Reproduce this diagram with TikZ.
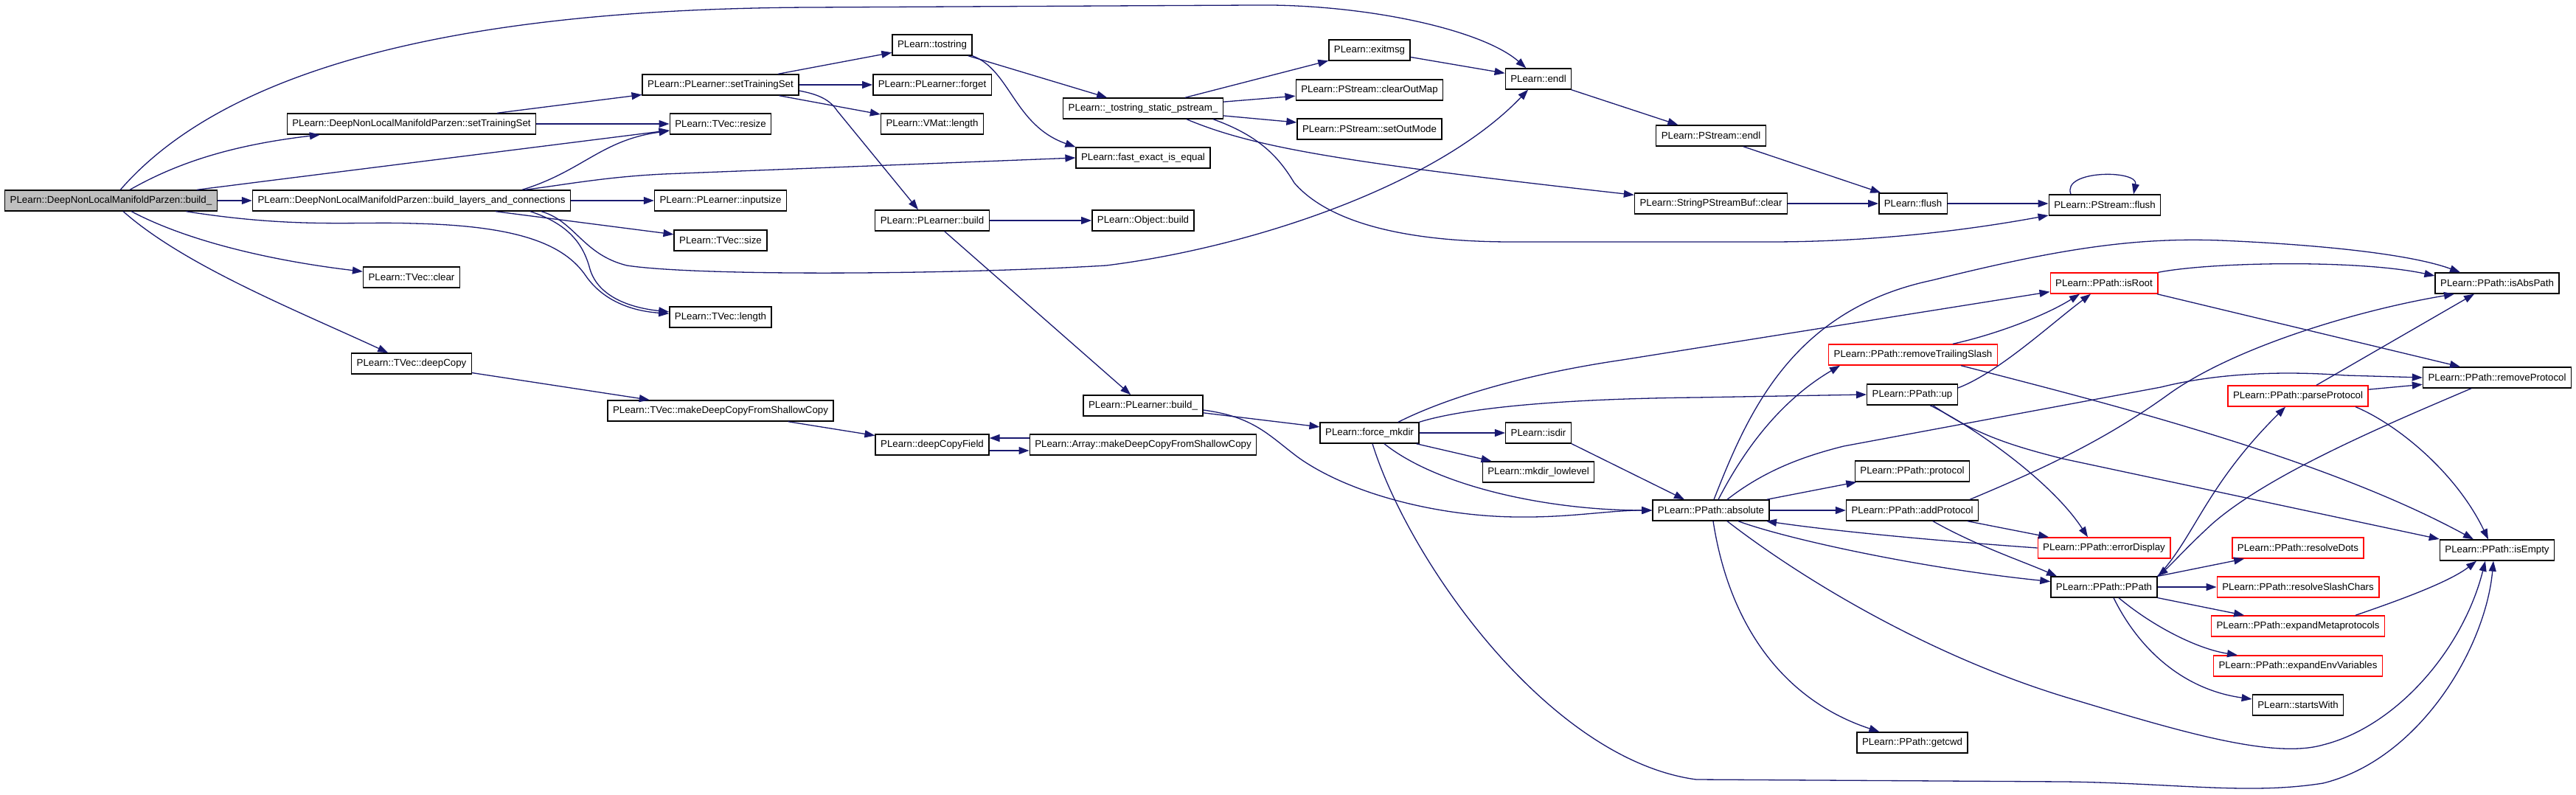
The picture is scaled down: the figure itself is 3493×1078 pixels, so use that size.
\documentclass[tikz,border=0pt]{standalone}
\usepackage{fontspec}
\setmainfont{Liberation Sans}
\usepackage{tikz}
\usetikzlibrary{arrows.meta}
\definecolor{rootgray}{HTML}{BFBFBF}
\definecolor{edgeblue}{HTML}{191970}
\tikzset{
  fn/.style={draw=black, fill=white, line width=1.4pt, inner xsep=7pt, inner ysep=0pt,
    minimum height=28pt, font=\fontsize{13.3pt}{16pt}\selectfont},
  fnroot/.style={fn, fill=rootgray},
  fnred/.style={fn, draw=red},
  call/.style={edgeblue, line width=1.3pt, -{Triangle[length=14pt,width=10pt]}}
}

\begin{document}
\begin{tikzpicture}[x=1pt, y=-1pt]
    \useasboundingbox (0,0) rectangle (3493,1078);
    % ---------------------
    \node[fnroot] (build) at (150.5,272) {PLearn::DeepNonLocalManifoldParzen::build\_};
    \node[fn] (dnSetTS) at (558,168) {PLearn::DeepNonLocalManifoldParzen::setTrainingSet};
    \node[fn] (layers) at (558,272) {PLearn::DeepNonLocalManifoldParzen::build\_layers\_and\_connections};
    \node[fn] (tclear) at (558,376) {PLearn::TVec::clear};
    \node[fn] (deepCopy) at (558,493) {PLearn::TVec::deepCopy};
    % ---------------------
    \node[fn] (plSetTS) at (977,115) {PLearn::PLearner::setTrainingSet};
    \node[fn] (resize) at (977,168) {PLearn::TVec::resize};
    \node[fn] (inputsize) at (977,272) {PLearn::PLearner::inputsize};
    \node[fn] (tsize) at (977,326) {PLearn::TVec::size};
    \node[fn] (tlength) at (977,430) {PLearn::TVec::length};
    \node[fn] (tvecMdc) at (977,557) {PLearn::TVec::makeDeepCopyFromShallowCopy};
    % ---------------------
    \node[fn] (tostring) at (1264,61) {PLearn::tostring};
    \node[fn] (forget) at (1264,115) {PLearn::PLearner::forget};
    \node[fn] (vmLength) at (1264,168) {PLearn::VMat::length};
    \node[fn] (plBuild) at (1264,299) {PLearn::PLearner::build};
    \node[fn] (dcField) at (1264,603) {PLearn::deepCopyField};
    % ---------------------
    \node[fn] (pstream) at (1550,147) {PLearn::\_tostring\_static\_pstream\_};
    \node[fn] (fastEq) at (1550,214) {PLearn::fast\_exact\_is\_equal};
    \node[fn] (objBuild) at (1550,299) {PLearn::Object::build};
    \node[fn] (plBuildU) at (1550,550) {PLearn::PLearner::build\_};
    \node[fn] (arrMdc) at (1550,603) {PLearn::Array::makeDeepCopyFromShallowCopy};
    % ---------------------
    \node[fn] (exitmsg) at (1857,68) {PLearn::exitmsg};
    \node[fn] (clearOut) at (1857,122) {PLearn::PStream::clearOutMap};
    \node[fn] (setOut) at (1857,175) {PLearn::PStream::setOutMode};
    \node[fn] (forceMk) at (1857,587) {PLearn::force\_mkdir};
    \node[fn] (endl) at (2086,107) {PLearn::endl};
    \node[fn] (isdir) at (2086,587) {PLearn::isdir};
    \node[fn] (mkLow) at (2086,640) {PLearn::mkdir\_lowlevel};
    % ---------------------
    \node[fn] (psEndl) at (2320,184) {PLearn::PStream::endl};
    \node[fn] (spbClear) at (2320,276) {PLearn::StringPStreamBuf::clear};
    \node[fn] (absolute) at (2320,692) {PLearn::PPath::absolute};
    \node[fn] (flush) at (2594,276) {PLearn::flush};
    \node[fnred] (rts) at (2594,481) {PLearn::PPath::removeTrailingSlash};
    \node[fn] (up) at (2593,535) {PLearn::PPath::up};
    \node[fn] (protocol) at (2593,639) {PLearn::PPath::protocol};
    \node[fn] (addProt) at (2593,692) {PLearn::PPath::addProtocol};
    \node[fn] (getcwd) at (2593,1007) {PLearn::PPath::getcwd};
    % ---------------------
    \node[fn] (psFlush) at (2854,278) {PLearn::PStream::flush};
    \node[fnred] (isRoot) at (2853,384) {PLearn::PPath::isRoot};
    \node[fnred] (errDisp) at (2853,743) {PLearn::PPath::errorDisplay};
    \node[fn] (ppath) at (2853,796) {PLearn::PPath::PPath};
    \node[fnred] (parseProt) at (3116,537) {PLearn::PPath::parseProtocol};
    \node[fnred] (resDots) at (3116,743) {PLearn::PPath::resolveDots};
    \node[fnred] (resSlash) at (3116,796) {PLearn::PPath::resolveSlashChars};
    \node[fnred] (expMeta) at (3116,849) {PLearn::PPath::expandMetaprotocols};
    \node[fnred] (expEnv) at (3116,903) {PLearn::PPath::expandEnvVariables};
    \node[fn] (startsWith) at (3116,956) {PLearn::startsWith};
    \node[fn] (isAbs) at (3386,384) {PLearn::PPath::isAbsPath};
    \node[fn] (rmProt) at (3386,512) {PLearn::PPath::removeProtocol};
    \node[fn] (isEmpty) at (3386,746) {PLearn::PPath::isEmpty};
    % ---------------------
    \draw
    (build)
    edge[call] (resize)
    (build.east)
    edge[call] (layers.west)
    (dnSetTS)
    edge[call] (plSetTS)
    (dnSetTS.east)
    edge[call] (resize.west)
    (layers.east)
    edge[call] (inputsize.west)
    (layers)
    edge[call] (tsize)
    (plSetTS)
    edge[call] (tostring)
    edge[call] (vmLength)
    (plSetTS.east)
    edge[call] (forget.west)
    (deepCopy)
    edge[call] (tvecMdc)
    (tvecMdc)
    edge[call] (dcField)
    ([yshift=-8pt]dcField.east)
    edge[call] ([yshift=-8pt]arrMdc.west)
    ([yshift=9pt]arrMdc.west)
    edge[call] ([yshift=9pt]dcField.east)
    (tostring)
    edge[call] (pstream)
    (plBuild.east)
    edge[call] (objBuild.west)
    (plBuild)
    edge[call] (plBuildU)
    (pstream)
    edge[call] (exitmsg)
    edge[call] (clearOut)
    edge[call] (setOut)
    (plBuildU)
    edge[call] (forceMk)
    (exitmsg)
    edge[call] (endl)
    (forceMk.east)
    edge[call] (isdir.west)
    (forceMk)
    edge[call] (mkLow)
    (endl)
    edge[call] (psEndl)
    (psEndl)
    edge[call] (flush)
    (spbClear.east)
    edge[call] (flush.west)
    (flush.east)
    edge[call] (flush.east -| psFlush.west)
    (isdir.south east)
    edge[call] ([xshift=-36pt]absolute.north)
    (absolute)
    edge[call] (protocol)
    (absolute.east)
    edge[call] (addProt.west)
    (addProt)
    edge[call] (errDisp)
    ([xshift=72pt]isRoot.south)
    edge[call] ([xshift=-50pt]rmProt.north)
    ([xshift=25pt]parseProt.north)
    edge[call] ([xshift=-31pt]isAbs.south)
    (parseProt)
    edge[call] (rmProt)
    (ppath)
    edge[call] (resDots)
    edge[call] (expMeta)
    (ppath.east)
    edge[call] (resSlash.west);
    % ---------------------
    \draw[call] (build) .. controls (300,100) and (600,12) .. (1100,10) -- (1700,7)
      .. controls (1850,5) and (2010,40) .. (endl);
    \draw[call] (build) .. controls (250,215) and (330,195) .. (dnSetTS);
    \draw[call] (build) .. controls (260,330) and (380,355) .. (tclear);
    \draw[call] (build) .. controls (250,360) and (400,420) .. (deepCopy);
    \draw[call] ([xshift=102pt]build.south) .. controls (400,310) and (480,300) .. (560,303)
      .. controls (700,306) and (765,330) .. (795,375) .. controls (820,410) and (860,422) .. (tlength);
    % ---------------------
    \draw[call] ([xshift=150pt]layers.north) .. controls (790,232) and (815,190) .. (resize);
    \draw[call] ([xshift=154pt]layers.north) .. controls (770,250) and (820,240) .. (900,236) -- (fastEq.west);
    \draw[call] ([xshift=161pt]layers.south) .. controls (775,305) and (792,335) .. (800,365)
      .. controls (812,405) and (860,418) .. (tlength);
    \draw[call] ([xshift=176pt]layers.south) .. controls (780,300) and (790,345) .. (850,360)
      .. controls (950,375) and (1300,372) .. (1500,360) .. controls (1700,335) and (1950,250) .. (endl);
    \draw[call] ([yshift=-8pt]plSetTS.east) .. controls (1110,128) and (1125,135) .. (1135,150)
      -- ([xshift=-19pt]plBuild.north);
    \draw[call] (tostring.south east) .. controls (1370,95) and (1375,170) .. (fastEq.north west);
    % ---------------------
    \draw[call] ([xshift=59pt]pstream.south) .. controls (1700,200) and (1820,220) .. (spbClear);
    \draw[call] ([xshift=95pt]pstream.south) .. controls (1710,185) and (1735,215) .. (1755,248)
      .. controls (1800,300) and (1900,328) .. (2050,328) -- (2400,328)
      .. controls (2550,328) and (2680,310) .. (psFlush);
    \draw[call] ([xshift=-46pt]psFlush.north) .. controls (2795,230) and (2900,230) .. ([xshift=39pt]psFlush.north);
    % ---------------------
    \draw[call] ([yshift=-6pt]plBuildU.east) .. controls (1700,565) and (1720,590) .. (1760,620)
      .. controls (1830,670) and (1950,700) .. (2056,701) .. controls (2130,702) and (2180,692) .. (absolute.west);
    \draw[call] ([xshift=20pt]forceMk.south) .. controls (1950,660) and (2100,692) .. (absolute.west);
    \draw[call] ([xshift=39pt]forceMk.north) .. controls (1950,545) and (2050,510) .. (2200,488) -- (isRoot);
    \draw[call] (forceMk.north east) .. controls (1980,555) and (2100,541) .. (2300,539) -- (up.west);
    \draw[call] ([xshift=4pt]forceMk.south) .. controls (1910,760) and (2100,1030) .. (2300,1057) -- (2800,1060)
      .. controls (2950,1062) and (3050,1078) .. (3150,1062) .. controls (3280,1030) and (3370,880) .. ([xshift=-5pt]isEmpty.south);
    % ---------------------
    \draw[call] ([xshift=4pt]absolute.north) .. controls (2370,560) and (2430,420) .. (2620,380)
      .. controls (2800,335) and (2900,322) .. (3011,326) .. controls (3150,332) and (3270,345) .. ([xshift=-50pt]isAbs.north);
    \draw[call] ([xshift=10pt]absolute.north) .. controls (2370,600) and (2420,540) .. ([xshift=-99pt]rts.south);
    \draw[call] ([xshift=22pt]absolute.north) .. controls (2390,640) and (2440,620) .. (2500,605) -- (2930,525)
      .. controls (3010,505) and (3100,503) .. (3180,509) -- (rmProt.west);
    \draw[call] ([xshift=37pt]absolute.south) .. controls (2420,730) and (2600,770) .. (ppath);
    \draw[call] ([xshift=3pt]absolute.south) .. controls (2345,850) and (2420,950) .. (getcwd);
    \draw[call] ([xshift=22pt]absolute.south) .. controls (2450,790) and (2620,890) .. (2800,945)
      .. controls (2950,990) and (3080,1030) .. (3150,1010) .. controls (3250,985) and (3340,880) .. ([xshift=-16pt]isEmpty.south);
    \draw[call] (errDisp.west) .. controls (2650,735) and (2500,722) .. ([xshift=75pt]absolute.south);
    % ---------------------
    \draw[call] ([xshift=28pt]addProt.south) .. controls (2680,740) and (2740,760) .. ([xshift=-64pt]ppath.north);
    \draw[call] ([xshift=78pt]addProt.north) .. controls (2760,640) and (2850,600) .. (2940,535)
      .. controls (3030,470) and (3200,420) .. ([xshift=-58pt]isAbs.south);
    \draw[call] ([yshift=9pt]up.east) .. controls (2710,505) and (2780,440) .. ([xshift=-18pt]isRoot.south);
    \draw[call] ([xshift=24pt]up.south) .. controls (2670,575) and (2780,650) .. ([xshift=-22pt]errDisp.north);
    \draw[call] ([xshift=28pt]up.south) .. controls (2680,590) and (2730,605) .. (2797,622) -- ([yshift=15pt]isEmpty.west);
    \draw[call] ([xshift=54pt]rts.north) .. controls (2700,455) and (2770,430) .. ([xshift=-33pt]isRoot.south);
    \draw[call] ([xshift=65pt]rts.south) .. controls (2850,545) and (3150,620) .. ([xshift=-32pt]isEmpty.north);
    % ---------------------
    \draw[call] (isRoot.north east) .. controls (3000,355) and (3200,352) .. ([yshift=10pt]isAbs.west);
    \draw[call] ([xshift=78pt]parseProt.south) .. controls (3250,575) and (3330,640) .. ([xshift=-12pt]isEmpty.north);
    \draw[call] ([xshift=-35pt]rmProt.south) .. controls (3250,570) and (3080,640) .. (3000,710)
      .. controls (2965,742) and (2945,765) .. (ppath.north east);
    \draw[call] (ppath.north east) .. controls (2975,730) and (2990,660) .. ([xshift=-17pt]parseProt.south);
    \draw[call] ([xshift=20pt]ppath.south) .. controls (2920,850) and (2980,880) .. ([xshift=-82pt]expEnv.north);
    \draw[call] ([xshift=13pt]ppath.south) .. controls (2900,880) and (2960,935) .. ([yshift=8pt]startsWith.west);
    \draw[call] ([xshift=78pt]expMeta.north) .. controls (3250,815) and (3320,790) .. ([xshift=-28pt]isEmpty.south);
\end{tikzpicture}
\end{document}
